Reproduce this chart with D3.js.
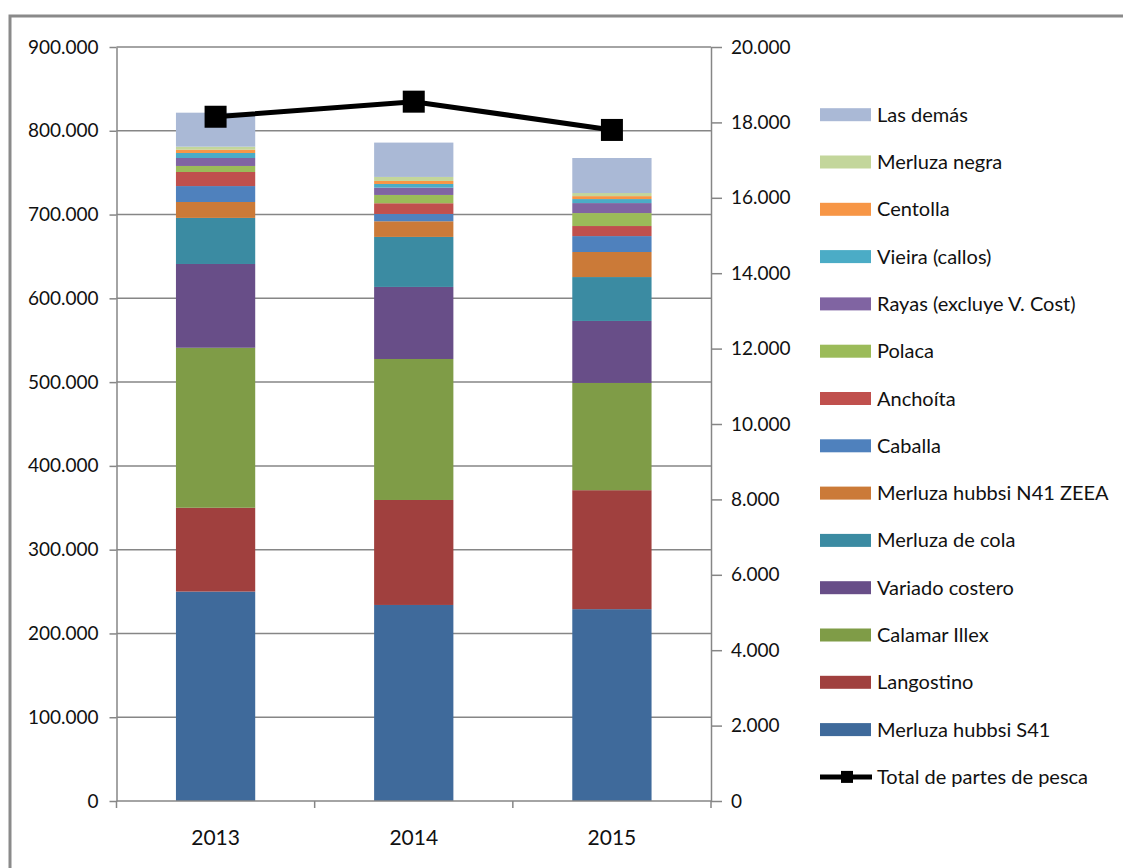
<!DOCTYPE html>
<html>
<head>
<meta charset="utf-8">
<script src="https://cdn.jsdelivr.net/npm/d3@7"></script>
<style>
  html, body { margin: 0; padding: 0; background: #fff; }
  svg { display: block; font-family: Lato, "Open Sans", sans-serif; }
</style>
</head>
<body>
<svg id="chart" width="1123" height="868"></svg>
<script>
// Years on the category axis
const years = ["2013", "2014", "2015"];

// Species, stacked from the bottom up
const species = [
  "Merluza hubbsi S41", "Langostino", "Calamar Illex", "Variado costero",
  "Merluza de cola", "Merluza hubbsi N41 ZEEA", "Caballa", "Anchoíta",
  "Polaca", "Rayas (excluye V. Cost)", "Vieira (callos)", "Centolla",
  "Merluza negra", "Las demás"
];
const speciesColors = [
  "#3F6A9B", "#A0403E", "#7F9C47", "#684E88",
  "#3B8BA2", "#CB7A38", "#4F81BD", "#C0504D",
  "#9BBB59", "#8064A2", "#4BACC6", "#F79646",
  "#C3D69B", "#AAB9D6"
];

// Landings per species (tonnes), one value per year
const merluzaHubbsiS41 = [250000, 234000, 229000];
const langostino       = [100000, 125300, 142000];
const calamarIllex     = [191000, 168300, 128000];
const variadoCostero   = [100000,  86000,  74000];
const merluzaDeCola    = [ 55000,  59700,  52400];
const merluzaN41ZEEA   = [ 19000,  18700,  29900];
const caballa          = [ 19000,   8700,  19000];
const anchoita         = [ 16800,  12800,  12000];
const polaca           = [  7200,   9900,  15500];
const rayas            = [  9500,   8700,  11900];
const vieira           = [  6000,   4400,   4800];
const centolla         = [  3900,   3600,   3500];
const merluzaNegra     = [  3600,   4800,   3700];
const lasDemas         = [ 40600,  41000,  41800];

// Total number of fishing reports (right axis)
const totalPartes = [18150, 18550, 17800];

// Axis tick values
const leftTicks = [0, 100000, 200000, 300000, 400000, 500000, 600000, 700000, 800000, 900000];
const rightTicks = [0, 2000, 4000, 6000, 8000, 10000, 12000, 14000, 16000, 18000, 20000];

const seriesValues = [
  merluzaHubbsiS41, langostino, calamarIllex, variadoCostero, merluzaDeCola,
  merluzaN41ZEEA, caballa, anchoita, polaca, rayas, vieira, centolla,
  merluzaNegra, lasDemas
];

const rows = years.map((y, i) => {
  const r = { year: y };
  species.forEach((s, k) => { r[s] = seriesValues[k][i]; });
  return r;
});

const svg = d3.select("#chart");
const fmt = v => d3.format(",")(v).replace(/,/g, ".");

// Outer frame
svg.append("path")
  .attr("d", "M10,868 L10,16 L1123,16")
  .attr("fill", "none").attr("stroke", "#8a8a8a").attr("stroke-width", 3);

const plot = { left: 116.5, right: 711, top: 47, bottom: 801 };

const x = d3.scaleBand().domain(years)
  .range([plot.left, plot.right]).paddingInner(0.6).paddingOuter(0.3);
const yL = d3.scaleLinear().domain([0, 900000]).range([plot.bottom, plot.top]);
const yR = d3.scaleLinear().domain([0, 20000]).range([plot.bottom, plot.top]);

const axisColor = "#868686";

// Horizontal gridlines
svg.append("g").selectAll("line").data(leftTicks.slice(1)).join("line")
  .attr("x1", plot.left).attr("x2", plot.right)
  .attr("y1", d => yL(d)).attr("y2", d => yL(d))
  .attr("stroke", axisColor).attr("stroke-width", 1.5);

// Stacked bars
const stack = d3.stack().keys(species)(rows);
svg.append("g").selectAll("g").data(stack).join("g")
  .attr("fill", (d, i) => speciesColors[i])
  .selectAll("rect").data(d => d).join("rect")
  .attr("x", d => x(d.data.year))
  .attr("width", x.bandwidth())
  .attr("y", d => yL(d[1]))
  .attr("height", d => yL(d[0]) - yL(d[1]));

// Left axis
const gL = svg.append("g").attr("transform", `translate(${plot.left},0)`)
  .call(d3.axisLeft(yL).tickValues(leftTicks).tickFormat(fmt).tickSizeInner(7).tickSizeOuter(0).tickPadding(11));
// Right axis
const gR = svg.append("g").attr("transform", `translate(${plot.right},0)`)
  .call(d3.axisRight(yR).tickValues(rightTicks).tickFormat(fmt).tickSizeInner(11).tickSizeOuter(0).tickPadding(9));
// Bottom axis (ticks at category boundaries)
const gB = svg.append("g").attr("transform", `translate(0,${plot.bottom})`)
  .call(d3.axisBottom(x).tickSize(0).tickPadding(29));
const boundaries = [plot.left].concat(years.map(y => x(y) + x.bandwidth() / 2 + x.step() / 2));
gB.selectAll(".bnd").data(boundaries).join("line").attr("class", "bnd")
  .attr("x1", d => d).attr("x2", d => d).attr("y1", 0).attr("y2", 7)
  .attr("stroke", axisColor).attr("stroke-width", 1.5);

[gL, gR, gB].forEach(g => {
  g.selectAll(".domain").attr("stroke", axisColor).attr("stroke-width", 1.5);
  g.selectAll(".tick line").attr("stroke", axisColor).attr("stroke-width", 1.5);
  g.selectAll("text").attr("font-family", "Lato, sans-serif").attr("font-size", 19).attr("fill", "#111");
});
gB.selectAll("text").attr("font-size", 21);
gB.select(".domain").attr("d", `M${plot.left},0H${plot.right}`);

// Total line with square markers
const cx = d => x(d) + x.bandwidth() / 2;
svg.append("path").datum(years)
  .attr("fill", "none").attr("stroke", "#000").attr("stroke-width", 5)
  .attr("d", d3.line().x(d => cx(d)).y((d, i) => yR(totalPartes[i])));
svg.append("g").selectAll("rect").data(years).join("rect")
  .attr("x", d => cx(d) - 11).attr("y", (d, i) => yR(totalPartes[i]) - 11)
  .attr("width", 22).attr("height", 22).attr("fill", "#000");

// Legend
const legendTop = 114.7, legendStep = 47.3;
const legendItems = species.map((s, i) => ({ name: s, color: speciesColors[i] })).reverse();
const lg = svg.append("g");
legendItems.forEach((it, i) => {
  const yy = legendTop + i * legendStep;
  lg.append("rect").attr("x", 820).attr("y", yy - 6.5).attr("width", 51).attr("height", 13).attr("fill", it.color);
  lg.append("text").attr("x", 877).attr("y", yy).attr("dy", "0.35em")
    .attr("font-size", 20).attr("fill", "#111").text(it.name);
});
const ly = legendTop + legendItems.length * legendStep;
lg.append("line").attr("x1", 820).attr("x2", 872).attr("y1", ly).attr("y2", ly)
  .attr("stroke", "#000").attr("stroke-width", 5);
lg.append("rect").attr("x", 841).attr("y", ly - 6).attr("width", 12).attr("height", 12).attr("fill", "#000");
lg.append("text").attr("x", 877).attr("y", ly).attr("dy", "0.35em")
  .attr("font-size", 20).attr("fill", "#111").text("Total de partes de pesca");
</script>
</body>
</html>
